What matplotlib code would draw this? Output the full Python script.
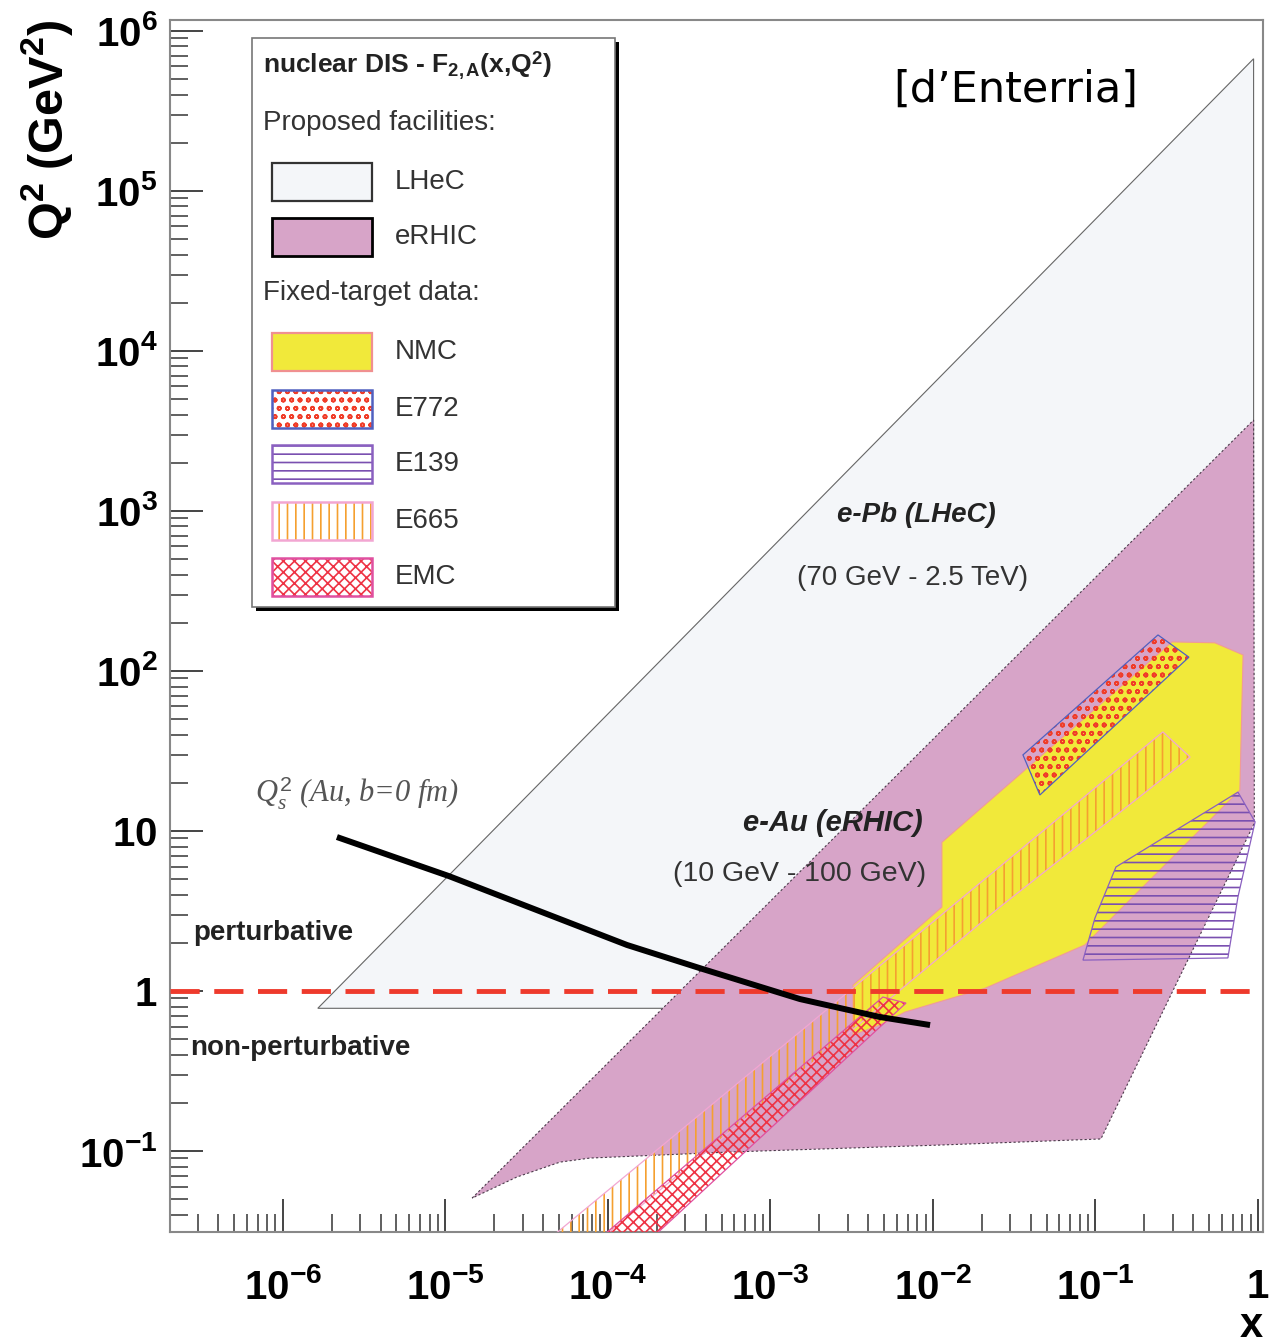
import numpy as np
import matplotlib
matplotlib.use("Agg")
import matplotlib.pyplot as plt
from matplotlib.patches import Rectangle
from matplotlib.ticker import LogLocator, FixedLocator, FuncFormatter, NullFormatter

plt.rcParams["font.family"] = ["Liberation Sans", "DejaVu Sans"]
plt.rcParams["mathtext.fontset"] = "custom"
plt.rcParams["mathtext.rm"] = "Liberation Sans"
plt.rcParams["mathtext.bf"] = "Liberation Sans:bold"
plt.rcParams["mathtext.it"] = "Liberation Serif:italic"
plt.rcParams["hatch.linewidth"] = 1.2

W, H = 1286, 1344

# kinematic coverage in (x, Q^2 [GeV^2])
lhec_x = [1.64e-6, 3.0e-3, 0.94, 0.94]
lhec_q2 = [0.78, 0.78, 20.0, 6.7e5]

erhic_x = [1.46e-5, 0.94, 0.95, 0.108, 0.0110, 5.6e-4, 7.75e-5, 5.07e-5, 2.75e-5]
erhic_q2 = [0.0508, 3700, 11.2, 0.119, 0.109, 0.0986, 0.0904, 0.0853, 0.0688]

nmc_x = [3.22e-3, 3.22e-3, 0.01135, 0.01135, 0.296, 0.543, 0.81, 0.774, 0.086, 0.0209, 6.73e-3, 4.72e-3]
nmc_q2 = [0.531, 1.09, 3.35, 8.5, 152, 150, 126, 18, 1.94, 1.04, 0.739, 0.613]

e772_x = [0.0358, 0.2425, 0.376, 0.0455]
e772_q2 = [29.9, 168, 122, 16.8]

e139_x = [0.0838, 0.0993, 0.1337, 0.753, 0.96, 0.753, 0.653]
e139_q2 = [1.56, 2.86, 5.96, 17.5, 11.4, 3.87, 1.61]

e665_x = [4.27e-5, 0.260, 0.382, 0.0258, 8.93e-5]
e665_q2 = [0.0278, 41.6, 29.0, 3.35, 0.0278]

emc_x = [8.67e-5, 4.92e-3, 6.83e-3, 4.72e-3, 1.81e-4]
emc_q2 = [0.0278, 0.917, 0.841, 0.596, 0.0278]

# saturation scale for Au at b=0
qs_x = [2.15e-6, 1.05e-5, 1.31e-4, 3.68e-4, 1.52e-3, 4.72e-3, 9.6e-3]
qs_q2 = [9.17, 5.23, 1.94, 1.39, 0.891, 0.688, 0.613]

q2_pert = 1.0

x_ticks = [1e-6, 1e-5, 1e-4, 1e-3, 1e-2, 1e-1, 1.0]
y_ticks = [1e-1, 1.0, 1e1, 1e2, 1e3, 1e4, 1e5, 1e6]

c_lhec = "#f4f6f9"
c_erhic = "#d7a4c8"
c_nmc = "#f1e93a"
c_e772 = "#f03c28"
c_e139 = "#7a50b0"
c_e665 = "#f5a030"
c_emc = "#ee3344"


def fpx(x, y):
    return x / W, 1 - y / H


fig = plt.figure(figsize=(W / 100, H / 100), dpi=100)
ax = fig.add_axes([170 / W, 1 - 1232 / H, (1263 - 170) / W, (1232 - 20) / H])
ax.set_xscale("log")
ax.set_yscale("log")
ax.set_xlim(2.02e-7, 1.074)
ax.set_ylim(0.0312, 1.17e6)

ax.fill(lhec_x, lhec_q2, facecolor=c_lhec, edgecolor="#666666", lw=0.8, zorder=1)
ax.fill(erhic_x, erhic_q2, facecolor=c_erhic, edgecolor="#4a3a4a", lw=0.8,
        ls=(0, (2, 2)), zorder=2)
ax.fill(nmc_x, nmc_q2, facecolor=c_nmc, edgecolor="#f09a9a", lw=0.8, zorder=3)

# hatched data sets: hatch drawn in its own colour, outline added separately
for xs, ys, hatch, hc, ec in [
    (e665_x, e665_q2, "||", c_e665, "#f2a6d2"),
    (emc_x, emc_q2, "xxx", c_emc, "#e050a0"),
    (e772_x, e772_q2, "oo", c_e772, "#5060c0"),
    (e139_x, e139_q2, "--", c_e139, "#8a60c0"),
]:
    ax.fill(xs, ys, facecolor="none", edgecolor=hc, hatch=hatch, lw=0, zorder=4)
    ax.fill(xs, ys, facecolor="none", edgecolor=ec, lw=0.9, zorder=4)

ax.axhline(q2_pert, color="#ee3a2c", lw=3.5, dashes=(6, 3), zorder=5)
ax.plot(qs_x, qs_q2, color="black", lw=4.3, solid_capstyle="butt",
        solid_joinstyle="round", zorder=6)


def dec_label(v, pos):
    e = int(round(np.log10(v)))
    if e == 0:
        return r"$\mathbf{1}$"
    if e == 1:
        return r"$\mathbf{10}$"
    return r"$\mathbf{10^{%d}}$" % e


for axis, ticks in ((ax.xaxis, x_ticks), (ax.yaxis, y_ticks)):
    axis.set_major_locator(FixedLocator(ticks))
    axis.set_minor_locator(LogLocator(base=10, subs=np.arange(2, 10), numticks=20))
    axis.set_major_formatter(FuncFormatter(dec_label))
    axis.set_minor_formatter(NullFormatter())

ax.tick_params(which="both", direction="in", top=False, right=False, color="#444444")
ax.tick_params(which="major", length=24, width=1.4, labelsize=29)
ax.tick_params(which="minor", length=13, width=1.2)
ax.tick_params(axis="x", which="major", pad=26)
ax.tick_params(axis="y", which="major", pad=9)
for s in ax.spines.values():
    s.set_color("#888888")
    s.set_linewidth(1.5)

ax.set_ylabel(r"$\mathbf{Q^{2}\ (GeV^{2})}$", fontsize=35, loc="top")
ax.yaxis.set_label_coords(-0.087, 1.0)
ax.set_xlabel("x", fontsize=30, fontweight="bold", loc="right")
ax.xaxis.set_label_coords(1.0, -0.061)

# annotations
fig.text(*fpx(893, 90), "[d\u2019Enterria]", fontsize=31, family="DejaVu Sans",
         ha="left", va="center")
fig.text(*fpx(193, 933), "perturbative", fontsize=20, fontweight="bold",
         color="#222222", ha="left", va="center")
fig.text(*fpx(190, 1048), "non-perturbative", fontsize=20, fontweight="bold",
         color="#222222", ha="left", va="center")
fig.text(*fpx(916, 515), "e-Pb (LHeC)", fontsize=20, fontweight="bold",
         style="italic", color="#222222", ha="center", va="center")
fig.text(*fpx(913, 578), "(70 GeV - 2.5 TeV)", fontsize=20, color="#333333",
         ha="center", va="center")
fig.text(*fpx(833, 823), "e-Au (eRHIC)", fontsize=21, fontweight="bold",
         style="italic", color="#222222", ha="center", va="center")
fig.text(*fpx(800, 874), "(10 GeV - 100 GeV)", fontsize=20.5, color="#333333",
         ha="center", va="center")
fig.text(*fpx(255, 793), r"$Q_s^2$ (Au, b=0 fm)", fontsize=22, family="Liberation Serif",
         style="italic", color="#555555", ha="left", va="center")

# legend box with drop shadow
x0, y0, x1, y1 = 252, 38, 615, 607
fig.add_artist(Rectangle(fpx(x0 + 4, y1 + 4), (x1 - x0) / W, (y1 - y0) / H,
                         transform=fig.transFigure, facecolor="black", edgecolor="none",
                         zorder=10))
fig.add_artist(Rectangle(fpx(x0, y1), (x1 - x0) / W, (y1 - y0) / H,
                         transform=fig.transFigure, facecolor="white", edgecolor="#777777",
                         lw=1.2, zorder=11))

fig.text(*fpx(263, 66), r"nuclear DIS - F$_{\mathbf{2,A}}$(x,Q$^{\mathbf{2}}$)",
         fontsize=19, fontweight="bold", color="#222222", ha="left", va="center", zorder=12)
fig.text(*fpx(263, 123), "Proposed facilities:", fontsize=20, color="#333333",
         ha="left", va="center", zorder=12)
fig.text(*fpx(263, 293), "Fixed-target data:", fontsize=20, color="#333333",
         ha="left", va="center", zorder=12)

entries = [
    ("LHeC", 163, dict(facecolor=c_lhec, edgecolor="#333333", lw=1.6)),
    ("eRHIC", 218, dict(facecolor=c_erhic, edgecolor="black", lw=2.0)),
    ("NMC", 333, dict(facecolor=c_nmc, edgecolor="#f09090", lw=1.6)),
    ("E772", 390, dict(facecolor="white", edgecolor=c_e772, hatch="oo", lw=0)),
    ("E139", 445, dict(facecolor="white", edgecolor=c_e139, hatch="--", lw=0)),
    ("E665", 502, dict(facecolor="white", edgecolor=c_e665, hatch="||", lw=0)),
    ("EMC", 558, dict(facecolor="white", edgecolor=c_emc, hatch="xxx", lw=0)),
]
outlines = {"E772": "#5060c0", "E139": "#8a60c0", "E665": "#f2a6d2", "EMC": "#e050a0"}
sw, sh = 100, 38
for name, top, style in entries:
    fig.add_artist(Rectangle(fpx(272, top + sh), sw / W, sh / H,
                             transform=fig.transFigure, zorder=12, **style))
    if name in outlines:
        fig.add_artist(Rectangle(fpx(272, top + sh), sw / W, sh / H,
                                 transform=fig.transFigure, facecolor="none",
                                 edgecolor=outlines[name], lw=1.8, zorder=12))
    fig.text(*fpx(395, top + sh / 2), name, fontsize=20, color="#333333",
             ha="left", va="center", zorder=12)

fig.savefig("out.png", dpi=100)
